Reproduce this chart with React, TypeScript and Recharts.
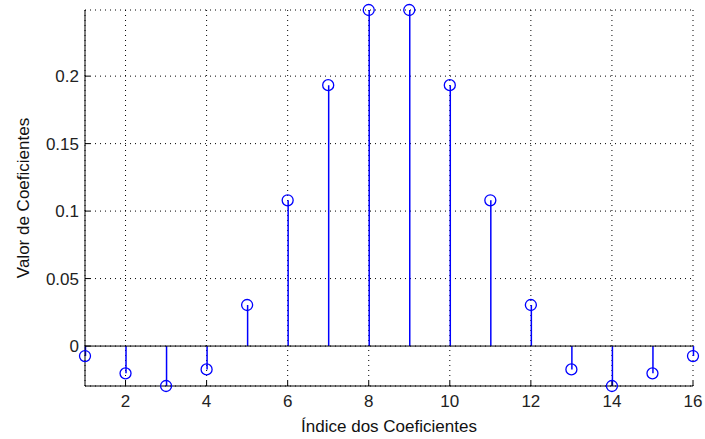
import {
    ComposedChart,
    Bar,
    Line,
    XAxis,
    YAxis,
    CartesianGrid,
    ReferenceLine,
} from 'recharts';

// coefficient index and value of each stem
const indices = [1, 2, 3, 4, 5, 6, 7, 8, 9, 10, 11, 12, 13, 14, 15, 16];
const coefficients = [
    -0.0074, -0.0202, -0.0296, -0.0173, 0.0304, 0.108, 0.1933, 0.249,
    0.249, 0.1933, 0.108, 0.0304, -0.0173, -0.0296, -0.0202, -0.0074,
];

const xTicks = [2, 4, 6, 8, 10, 12, 14, 16];
const yTicks = [0, 0.05, 0.1, 0.15, 0.2];
const xDomain = [1, 16];
const yDomain = [-0.0296, 0.249];

const STEM = '#0000ff';
const FONT = '"Liberation Sans", Arial, sans-serif';
const tickStyle = { fill: '#222', fontSize: 17, fontFamily: FONT };

const data = indices.map((n, i) => ({ n, v: coefficients[i] }));

const App = () => {
    return (
        <div style={{ position: 'fixed', left: 0, top: 0, background: '#fff' }}>
            <ComposedChart
                width={705}
                height={439}
                data={data}
                margin={{ top: 10, right: 12, bottom: 0, left: 0 }}
            >
                <CartesianGrid stroke="#000" strokeDasharray="1 4" />
                <XAxis
                    dataKey="n"
                    type="number"
                    domain={xDomain}
                    ticks={xTicks}
                    height={53}
                    tickSize={-5}
                    tickMargin={14}
                    axisLine={{ stroke: '#000' }}
                    tickLine={{ stroke: '#000' }}
                    tick={tickStyle}
                    label={{
                        value: 'Índice dos Coeficientes',
                        position: 'insideBottom',
                        offset: 7,
                        style: { fill: '#111', fontSize: 17, fontFamily: FONT },
                    }}
                />
                <XAxis
                    xAxisId="top"
                    dataKey="n"
                    type="number"
                    orientation="top"
                    domain={xDomain}
                    ticks={xTicks}
                    height={0}
                    tickSize={-5}
                    tickFormatter={() => ''}
                    axisLine={{ stroke: '#000' }}
                    tickLine={{ stroke: '#000' }}
                />
                <YAxis
                    type="number"
                    domain={yDomain}
                    ticks={yTicks}
                    width={85}
                    tickSize={-5}
                    tickMargin={11}
                    axisLine={{ stroke: '#000' }}
                    tickLine={{ stroke: '#000' }}
                    tick={tickStyle}
                    label={{
                        value: 'Valor de Coeficientes',
                        angle: -90,
                        position: 'center',
                        dx: -20,
                        style: { fill: '#111', fontSize: 17, fontFamily: FONT, textAnchor: 'middle' },
                    }}
                />
                <YAxis
                    yAxisId="right"
                    orientation="right"
                    type="number"
                    domain={yDomain}
                    ticks={yTicks}
                    width={0}
                    tickSize={-5}
                    tickFormatter={() => ''}
                    axisLine={{ stroke: '#000' }}
                    tickLine={{ stroke: '#000' }}
                />
                <ReferenceLine y={0} stroke="#000" strokeWidth={1} />
                <Bar dataKey="v" fill={STEM} barSize={1.5} isAnimationActive={false} />
                <Line
                    dataKey="v"
                    stroke="none"
                    dot={{ r: 5.5, fill: 'none', stroke: STEM, strokeWidth: 1.3 }}
                    activeDot={false}
                    isAnimationActive={false}
                />
            </ComposedChart>
        </div>
    );
};

export default App;
